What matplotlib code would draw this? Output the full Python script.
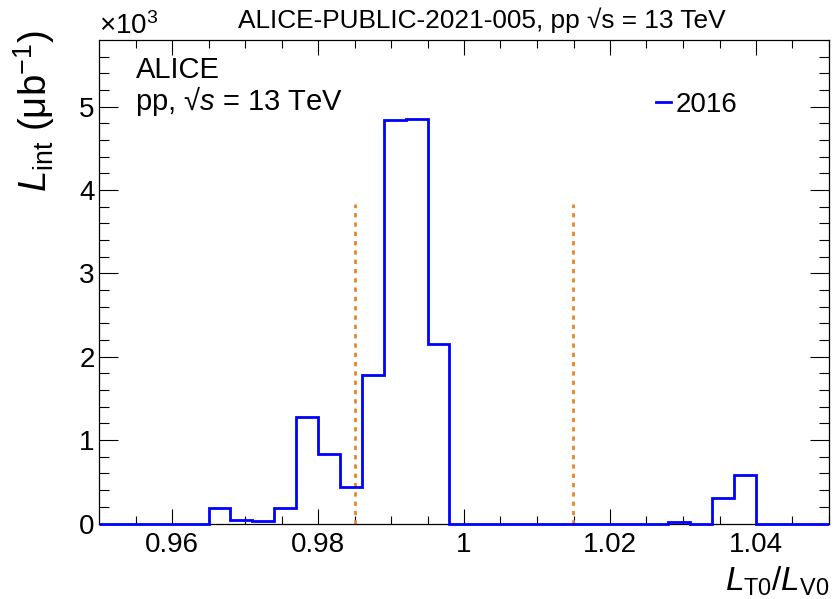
import matplotlib
matplotlib.use("Agg")
import matplotlib.pyplot as plt
import numpy as np
from matplotlib.transforms import Bbox, TransformedBbox

plt.rcParams['font.family'] = ['Liberation Sans', 'DejaVu Sans']
plt.rcParams['mathtext.fontset'] = 'custom'
plt.rcParams['mathtext.rm'] = 'Liberation Sans'
plt.rcParams['mathtext.it'] = 'Liberation Sans:italic'
plt.rcParams['mathtext.bf'] = 'Liberation Sans:bold'

# ---- data ----
bin_width = 0.003
bin_start = 0.950
lumi_values = [0, 0, 0, 0, 0,            # 0.950 - 0.965
               185, 45, 25, 190, 1275,   # 0.965 - 0.980
               830, 440, 1780, 4840, 4850, # 0.980 - 0.995
               2155, 0, 0, 0, 0,         # 0.995 - 1.010
               0, 0, 0, 0, 0,            # 1.010 - 1.025
               0, 20, 0, 300, 580,       # 1.025 - 1.040
               0, 0, 0, 0]               # 1.040 - 1.052
cut_positions = [0.985, 1.015]
cut_height = 3830
series_label = "2016"
x_ticks = [0.96, 0.98, 1.00, 1.02, 1.04]
x_ticklabels = ["0.96", "0.98", "1", "1.02", "1.04"]
y_ticks = [0, 1000, 2000, 3000, 4000, 5000]
y_ticklabels = ["0", "1", "2", "3", "4", "5"]
title = "ALICE-PUBLIC-2021-005, pp \u221as = 13 TeV"

edges = bin_start + bin_width * np.arange(len(lumi_values) + 1)

W, H = 834, 599
fig = plt.figure(figsize=(W / 100, H / 100), dpi=100)
ax = fig.add_axes([99 / W, 1 - 523.5 / H, (829 - 99) / W, (523.5 - 40) / H])

ax.set_xlim(0.95, 1.05)
ax.set_ylim(0, 5800)

st = ax.stairs(lumi_values, edges, color='#0000ff', lw=2.0, label=series_label,
               baseline=None, zorder=3)
# clip to the x range but let the zero-level line sit fully on the axis
clip_box = TransformedBbox(Bbox([[0, -0.01], [1, 1]]), ax.transAxes)
st.set_clip_path(None)
st.set_clip_box(clip_box)
st.set_clip_on(True)

ax.vlines(cut_positions, 0, cut_height, colors='#e8862c', lw=2.0,
          linestyles=(0, (1.55, 1.8)), zorder=2)

ax.set_xticks(x_ticks)
ax.set_xticklabels(x_ticklabels)
ax.set_yticks(y_ticks)
ax.set_yticklabels(y_ticklabels)
ax.set_xticks(np.arange(0.955, 1.05, 0.005), minor=True)
ax.set_yticks(np.arange(0, 5800, 200), minor=True)

for sp in ax.spines.values():
    sp.set_linewidth(0.9)
ax.tick_params(axis='both', which='both', direction='in', top=True, right=True,
               labelsize=20, width=0.8)
ax.tick_params(axis='x', which='major', length=11, pad=6)
ax.tick_params(axis='x', which='minor', length=5.5)
ax.tick_params(axis='y', which='major', length=14, pad=3)
ax.tick_params(axis='y', which='minor', length=7.5)

# texts
fig.text(482 / W, 1 - 28 / H, title, ha='center', va='baseline', fontsize=18.9)
fig.text(99 / W, 1 - 34 / H, r"$\times$10$^{3}$", ha='left', va='baseline', fontsize=20)
fig.text(136 / W, 1 - 78 / H, "ALICE", ha='left', va='baseline', fontsize=21)
fig.text(135 / W, 1 - 110 / H, "pp, \u221a$\\mathit{s}$ = 13 TeV",
         ha='left', va='baseline', fontsize=21)

fig.text(34 / W, 1 - 30 / H, r"$L_{\mathrm{int}}$ (μb$^{\mathrm{-1}}$)", rotation=90,
         ha='center', va='top', fontsize=27.5)
fig.text(829 / W, 1 - 598 / H, r"$L_{\mathrm{T0}}/L_{\mathrm{V0}}$", ha='right',
         va='bottom', fontsize=24)

leg = ax.legend(loc='upper left', bbox_to_anchor=(656 / W, 1 - 92 / H),
                bbox_transform=fig.transFigure, frameon=False, fontsize=20,
                handlelength=0.55, handletextpad=0.15, borderpad=0,
                borderaxespad=0)

fig.savefig("out.png", dpi=100)
